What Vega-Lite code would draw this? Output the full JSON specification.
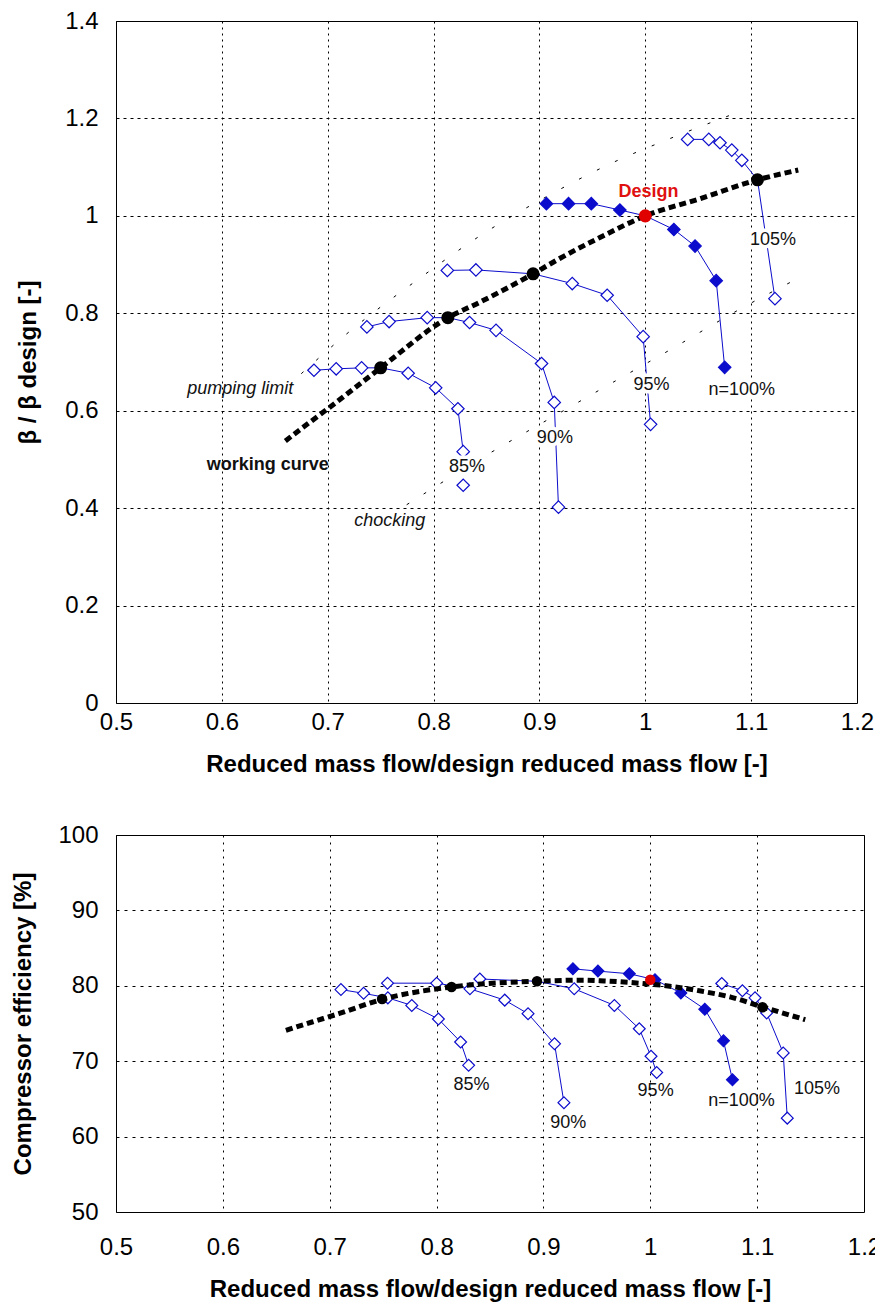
{
  "$schema": "https://vega.github.io/schema/vega-lite/v6.json",
  "background": "white",
  "padding": {"left": 11, "top": 8, "right": 0, "bottom": 0},
  "spacing": 45,
  "config": {
    "font": "Liberation Sans",
    "view": {"stroke": "black", "strokeWidth": 1},
    "axis": {
      "labelFont": "Liberation Sans", "labelFontSize": 24, "labelColor": "black", "labelFlush": false,
      "titleFont": "Liberation Sans", "titleFontSize": 24, "titleFontWeight": "bold", "titleColor": "black",
      "domain": false, "ticks": false, "grid": true, "gridColor": "black", "gridOpacity": 1, "gridWidth": 1
    }
  },
  "datasets": {
    "topSpeed": [
      {"s": "85a", "c": "85%", "i": 1, "x": 0.687, "y": 0.683, "op": 0},
      {"s": "85a", "c": "85%", "i": 2, "x": 0.708, "y": 0.686, "op": 0},
      {"s": "85a", "c": "85%", "i": 3, "x": 0.732, "y": 0.688, "op": 0},
      {"s": "85a", "c": "85%", "i": 4, "x": 0.750, "y": 0.688, "op": 1},
      {"s": "85a", "c": "85%", "i": 5, "x": 0.776, "y": 0.677, "op": 0},
      {"s": "85a", "c": "85%", "i": 6, "x": 0.802, "y": 0.647, "op": 0},
      {"s": "85a", "c": "85%", "i": 7, "x": 0.823, "y": 0.604, "op": 0},
      {"s": "85a", "c": "85%", "i": 8, "x": 0.828, "y": 0.516, "op": 0},
      {"s": "85b", "c": "85%", "i": 9, "x": 0.828, "y": 0.447, "op": 0},
      {"s": "90", "c": "90%", "i": 1, "x": 0.737, "y": 0.772, "op": 0},
      {"s": "90", "c": "90%", "i": 2, "x": 0.758, "y": 0.783, "op": 0},
      {"s": "90", "c": "90%", "i": 3, "x": 0.794, "y": 0.791, "op": 0},
      {"s": "90", "c": "90%", "i": 4, "x": 0.8135, "y": 0.791, "op": 1},
      {"s": "90", "c": "90%", "i": 5, "x": 0.834, "y": 0.781, "op": 0},
      {"s": "90", "c": "90%", "i": 6, "x": 0.859, "y": 0.765, "op": 0},
      {"s": "90", "c": "90%", "i": 7, "x": 0.902, "y": 0.697, "op": 0},
      {"s": "90", "c": "90%", "i": 8, "x": 0.914, "y": 0.617, "op": 0},
      {"s": "90", "c": "90%", "i": 9, "x": 0.918, "y": 0.402, "op": 0},
      {"s": "95", "c": "95%", "i": 1, "x": 0.813, "y": 0.888, "op": 0},
      {"s": "95", "c": "95%", "i": 2, "x": 0.840, "y": 0.889, "op": 0},
      {"s": "95", "c": "95%", "i": 3, "x": 0.894, "y": 0.881, "op": 1},
      {"s": "95", "c": "95%", "i": 4, "x": 0.931, "y": 0.861, "op": 0},
      {"s": "95", "c": "95%", "i": 5, "x": 0.964, "y": 0.837, "op": 0},
      {"s": "95", "c": "95%", "i": 6, "x": 0.998, "y": 0.752, "op": 0},
      {"s": "95", "c": "95%", "i": 7, "x": 1.005, "y": 0.572, "op": 0},
      {"s": "100", "c": "100%", "i": 1, "x": 0.9066, "y": 1.025, "op": 0},
      {"s": "100", "c": "100%", "i": 2, "x": 0.9275, "y": 1.025, "op": 0},
      {"s": "100", "c": "100%", "i": 3, "x": 0.949, "y": 1.025, "op": 0},
      {"s": "100", "c": "100%", "i": 4, "x": 0.976, "y": 1.012, "op": 0},
      {"s": "100", "c": "100%", "i": 5, "x": 1.0, "y": 1.0, "op": 1},
      {"s": "100", "c": "100%", "i": 6, "x": 1.027, "y": 0.972, "op": 0},
      {"s": "100", "c": "100%", "i": 7, "x": 1.047, "y": 0.938, "op": 0},
      {"s": "100", "c": "100%", "i": 8, "x": 1.067, "y": 0.867, "op": 0},
      {"s": "100", "c": "100%", "i": 9, "x": 1.075, "y": 0.689, "op": 0},
      {"s": "105", "c": "105%", "i": 1, "x": 1.040, "y": 1.157, "op": 0},
      {"s": "105", "c": "105%", "i": 2, "x": 1.060, "y": 1.157, "op": 0},
      {"s": "105", "c": "105%", "i": 3, "x": 1.0706, "y": 1.150, "op": 0},
      {"s": "105", "c": "105%", "i": 4, "x": 1.0817, "y": 1.135, "op": 0},
      {"s": "105", "c": "105%", "i": 5, "x": 1.0912, "y": 1.114, "op": 0},
      {"s": "105", "c": "105%", "i": 6, "x": 1.106, "y": 1.074, "op": 1},
      {"s": "105", "c": "105%", "i": 7, "x": 1.1225, "y": 0.830, "op": 0}
    ],
    "topWork": [
      {"i": 1, "x": 0.660, "y": 0.538},
      {"i": 2, "x": 0.6786, "y": 0.569},
      {"i": 3, "x": 0.7007, "y": 0.605},
      {"i": 4, "x": 0.750, "y": 0.688},
      {"i": 5, "x": 0.8135, "y": 0.791},
      {"i": 6, "x": 0.843, "y": 0.822},
      {"i": 7, "x": 0.894, "y": 0.881},
      {"i": 8, "x": 0.9187, "y": 0.912},
      {"i": 9, "x": 0.9566, "y": 0.955},
      {"i": 10, "x": 1.0, "y": 1.0},
      {"i": 11, "x": 1.0514, "y": 1.035},
      {"i": 12, "x": 1.106, "y": 1.074},
      {"i": 13, "x": 1.1445, "y": 1.094}
    ],
    "topOp": [
      {"x": 0.750, "y": 0.688, "kind": "op"},
      {"x": 0.8135, "y": 0.791, "kind": "op"},
      {"x": 0.894, "y": 0.881, "kind": "op"},
      {"x": 1.106, "y": 1.074, "kind": "op"},
      {"x": 1.0, "y": 1.0, "kind": "design"}
    ],
    "limits": [
      {"name": "pump", "i": 1, "x": 0.675, "y": 0.676},
      {"name": "pump", "i": 2, "x": 0.7225, "y": 0.766},
      {"name": "pump", "i": 3, "x": 0.785, "y": 0.869},
      {"name": "pump", "i": 4, "x": 0.8467, "y": 0.963},
      {"name": "pump", "i": 5, "x": 0.908, "y": 1.041},
      {"name": "pump", "i": 6, "x": 0.971, "y": 1.111},
      {"name": "pump", "i": 7, "x": 1.018, "y": 1.154},
      {"name": "pump", "i": 8, "x": 1.0807, "y": 1.207},
      {"name": "choke", "i": 1, "x": 0.7746, "y": 0.407},
      {"name": "choke", "i": 2, "x": 0.854, "y": 0.514},
      {"name": "choke", "i": 3, "x": 0.9155, "y": 0.591},
      {"name": "choke", "i": 4, "x": 0.962, "y": 0.649},
      {"name": "choke", "i": 5, "x": 1.025, "y": 0.727},
      {"name": "choke", "i": 6, "x": 1.0865, "y": 0.805},
      {"name": "choke", "i": 7, "x": 1.149, "y": 0.877}
    ],
    "topLabels": [
      {"x": 1.003, "y": 1.049, "t": "Design", "k": "design"},
      {"x": 1.1206, "y": 0.951, "t": "105%", "k": "speed"},
      {"x": 1.0059, "y": 0.653, "t": "95%", "k": "speed"},
      {"x": 1.0912, "y": 0.643, "t": "n=100%", "k": "speed"},
      {"x": 0.8315, "y": 0.485, "t": "85%", "k": "speed"},
      {"x": 0.9146, "y": 0.543, "t": "90%", "k": "speed"},
      {"x": 0.6174, "y": 0.645, "t": "pumping limit", "k": "italic"},
      {"x": 0.6433, "y": 0.489, "t": "working curve", "k": "bold"},
      {"x": 0.7585, "y": 0.374, "t": "chocking", "k": "italic"}
    ],
    "botSpeed": [
      {"s": "85", "c": "85%", "i": 1, "x": 0.7105, "y": 79.5, "op": 0},
      {"s": "85", "c": "85%", "i": 2, "x": 0.7317, "y": 79.0, "op": 0},
      {"s": "85", "c": "85%", "i": 3, "x": 0.7544, "y": 78.4, "op": 0},
      {"s": "85", "c": "85%", "i": 4, "x": 0.7768, "y": 77.4, "op": 0},
      {"s": "85", "c": "85%", "i": 5, "x": 0.8017, "y": 75.6, "op": 0},
      {"s": "85", "c": "85%", "i": 6, "x": 0.8225, "y": 72.55, "op": 0},
      {"s": "85", "c": "85%", "i": 7, "x": 0.830, "y": 69.45, "op": 0},
      {"s": "90", "c": "90%", "i": 1, "x": 0.7541, "y": 80.35, "op": 0},
      {"s": "90", "c": "90%", "i": 2, "x": 0.8001, "y": 80.35, "op": 0},
      {"s": "90", "c": "90%", "i": 3, "x": 0.8312, "y": 79.6, "op": 0},
      {"s": "90", "c": "90%", "i": 4, "x": 0.8638, "y": 78.1, "op": 0},
      {"s": "90", "c": "90%", "i": 5, "x": 0.8856, "y": 76.3, "op": 0},
      {"s": "90", "c": "90%", "i": 6, "x": 0.9104, "y": 72.3, "op": 0},
      {"s": "90", "c": "90%", "i": 7, "x": 0.9192, "y": 64.5, "op": 0},
      {"s": "95", "c": "95%", "i": 1, "x": 0.8405, "y": 80.9, "op": 0},
      {"s": "95", "c": "95%", "i": 2, "x": 0.894, "y": 80.6, "op": 1},
      {"s": "95", "c": "95%", "i": 3, "x": 0.9288, "y": 79.6, "op": 0},
      {"s": "95", "c": "95%", "i": 4, "x": 0.9664, "y": 77.4, "op": 0},
      {"s": "95", "c": "95%", "i": 5, "x": 0.9897, "y": 74.3, "op": 0},
      {"s": "95", "c": "95%", "i": 6, "x": 1.0007, "y": 70.65, "op": 0},
      {"s": "95", "c": "95%", "i": 7, "x": 1.006, "y": 68.5, "op": 0},
      {"s": "100", "c": "100%", "i": 1, "x": 0.9276, "y": 82.25, "op": 0},
      {"s": "100", "c": "100%", "i": 2, "x": 0.951, "y": 81.95, "op": 0},
      {"s": "100", "c": "100%", "i": 3, "x": 0.9804, "y": 81.6, "op": 0},
      {"s": "100", "c": "100%", "i": 4, "x": 1.0044, "y": 80.8, "op": 0},
      {"s": "100", "c": "100%", "i": 5, "x": 1.0286, "y": 79.05, "op": 0},
      {"s": "100", "c": "100%", "i": 6, "x": 1.051, "y": 76.9, "op": 0},
      {"s": "100", "c": "100%", "i": 7, "x": 1.0685, "y": 72.7, "op": 0},
      {"s": "100", "c": "100%", "i": 8, "x": 1.0769, "y": 67.55, "op": 0},
      {"s": "105", "c": "105%", "i": 1, "x": 1.0669, "y": 80.3, "op": 0},
      {"s": "105", "c": "105%", "i": 2, "x": 1.0862, "y": 79.35, "op": 0},
      {"s": "105", "c": "105%", "i": 3, "x": 1.098, "y": 78.4, "op": 0},
      {"s": "105", "c": "105%", "i": 4, "x": 1.1049, "y": 77.15, "op": 1},
      {"s": "105", "c": "105%", "i": 5, "x": 1.1089, "y": 76.4, "op": 0},
      {"s": "105", "c": "105%", "i": 6, "x": 1.1244, "y": 71.1, "op": 0},
      {"s": "105", "c": "105%", "i": 7, "x": 1.1282, "y": 62.45, "op": 0}
    ],
    "botWork": [
      {"i": 1, "x": 0.659, "y": 74.1},
      {"i": 2, "x": 0.6835, "y": 75.2},
      {"i": 3, "x": 0.7084, "y": 76.3},
      {"i": 4, "x": 0.749, "y": 78.2},
      {"i": 5, "x": 0.814, "y": 79.85},
      {"i": 6, "x": 0.894, "y": 80.6},
      {"i": 7, "x": 0.938, "y": 80.75},
      {"i": 8, "x": 0.9568, "y": 80.65},
      {"i": 9, "x": 0.9848, "y": 80.4},
      {"i": 10, "x": 1.0209, "y": 79.9},
      {"i": 11, "x": 1.0473, "y": 79.3},
      {"i": 12, "x": 1.0753, "y": 78.5},
      {"i": 13, "x": 1.105, "y": 77.2},
      {"i": 14, "x": 1.145, "y": 75.5}
    ],
    "botOp": [
      {"x": 0.749, "y": 78.26, "kind": "op"},
      {"x": 0.814, "y": 79.85, "kind": "op"},
      {"x": 0.894, "y": 80.6, "kind": "op"},
      {"x": 1.105, "y": 77.16, "kind": "op"},
      {"x": 1.0, "y": 80.8, "kind": "design"}
    ],
    "botLabels": [
      {"x": 0.8327, "y": 66.9, "t": "85%"},
      {"x": 0.9232, "y": 61.8, "t": "90%"},
      {"x": 1.005, "y": 66.0, "t": "95%"},
      {"x": 1.0854, "y": 64.67, "t": "n=100%"},
      {"x": 1.156, "y": 66.3, "t": "105%"}
    ]
  },
  "vconcat": [
    {
      "width": 741,
      "height": 682,
      "encoding": {
        "x": {"field": "x", "type": "quantitative",
          "scale": {"domain": [0.5, 1.2], "nice": false, "zero": false},
          "axis": {"title": "Reduced mass flow/design reduced mass flow [-]", "values": [0.5, 0.6, 0.7, 0.8, 0.9, 1.0, 1.1, 1.2], "format": "~g", "labelPadding": 7, "titlePadding": 18, "gridDash": [2, 4]}},
        "y": {"field": "y", "type": "quantitative",
          "scale": {"domain": [0, 1.4], "nice": false, "zero": false},
          "axis": {"title": "β / β design [-]", "values": [0, 0.2, 0.4, 0.6, 0.8, 1.0, 1.2, 1.4], "format": "~g", "labelPadding": 18, "titlePadding": 24, "gridDash": [3, 4]}}
      },
      "layer": [
        {"data": {"name": "limits"},
          "mark": {"type": "line", "color": "black", "strokeWidth": 1, "strokeDash": [3, 17], "interpolate": "monotone"},
          "encoding": {"detail": {"field": "name"}, "order": {"field": "i"}}},
        {"data": {"name": "topSpeed"},
          "transform": [{"filter": "datum.s !== '85b'"}],
          "mark": {"type": "line", "color": "#0c0ccc", "strokeWidth": 1},
          "encoding": {"detail": {"field": "s"}, "order": {"field": "i"}}},
        {"data": {"name": "topSpeed"},
          "transform": [{"filter": "datum.op === 0"}],
          "mark": {"type": "point", "shape": "diamond", "size": 155, "strokeWidth": 1.2, "stroke": "#0c0ccc", "opacity": 1},
          "encoding": {"fill": {"field": "c", "type": "nominal", "scale": {"domain": ["85%", "90%", "95%", "100%", "105%"], "range": ["white", "white", "white", "#0c0ccc", "white"]}, "legend": null}}},
        {"data": {"name": "topWork"},
          "mark": {"type": "line", "color": "black", "strokeWidth": 5, "strokeDash": [7, 4], "interpolate": "monotone"},
          "encoding": {"order": {"field": "i"}}},
        {"data": {"name": "topOp"},
          "mark": {"type": "point", "shape": "circle", "size": 170, "filled": true, "opacity": 1},
          "encoding": {"color": {"field": "kind", "type": "nominal", "scale": {"domain": ["op", "design"], "range": ["black", "#e00000"]}, "legend": null}}},
        {"data": {"name": "topLabels"},
          "transform": [{"filter": "datum.k === 'speed'"}],
          "mark": {"type": "text", "fontSize": 18, "font": "Liberation Sans", "stroke": "white", "strokeWidth": 7, "strokeJoin": "round", "fill": "white", "align": "center", "baseline": "middle"},
          "encoding": {"text": {"field": "t"}}},
        {"data": {"name": "topLabels"},
          "transform": [{"filter": "datum.k === 'speed'"}],
          "mark": {"type": "text", "fontSize": 18, "font": "Liberation Sans", "color": "#111111", "align": "center", "baseline": "middle"},
          "encoding": {"text": {"field": "t"}}},
        {"data": {"name": "topLabels"},
          "transform": [{"filter": "datum.k === 'design'"}],
          "mark": {"type": "text", "fontSize": 18, "fontWeight": "bold", "font": "Liberation Sans", "color": "#e01010", "align": "center", "baseline": "middle"},
          "encoding": {"text": {"field": "t"}}},
        {"data": {"name": "topLabels"},
          "transform": [{"filter": "datum.k === 'italic'"}],
          "mark": {"type": "text", "fontSize": 18, "fontStyle": "italic", "font": "Liberation Sans", "color": "#111111", "align": "center", "baseline": "middle"},
          "encoding": {"text": {"field": "t"}}},
        {"data": {"name": "topLabels"},
          "transform": [{"filter": "datum.k === 'bold'"}],
          "mark": {"type": "text", "fontSize": 18, "fontWeight": "bold", "font": "Liberation Sans", "color": "#111111", "align": "center", "baseline": "middle"},
          "encoding": {"text": {"field": "t"}}}
      ]
    },
    {
      "width": 748,
      "height": 377,
      "encoding": {
        "x": {"field": "x", "type": "quantitative",
          "scale": {"domain": [0.5, 1.2], "nice": false, "zero": false},
          "axis": {"title": "Reduced mass flow/design reduced mass flow [-]", "values": [0.5, 0.6, 0.7, 0.8, 0.9, 1.0, 1.1, 1.2], "format": "~g", "labelPadding": 23, "titlePadding": 18, "gridDash": [2, 5]}},
        "y": {"field": "y", "type": "quantitative",
          "scale": {"domain": [50, 100], "nice": false, "zero": false},
          "axis": {"title": "Compressor efficiency [%]", "values": [50, 60, 70, 80, 90, 100], "format": "d", "labelPadding": 18, "titlePadding": 22, "gridDash": [3, 5]}}
      },
      "layer": [
        {"data": {"name": "botSpeed"},
          "mark": {"type": "line", "color": "#0c0ccc", "strokeWidth": 1},
          "encoding": {"detail": {"field": "s"}, "order": {"field": "i"}}},
        {"data": {"name": "botSpeed"},
          "transform": [{"filter": "datum.op === 0"}],
          "mark": {"type": "point", "shape": "diamond", "size": 140, "strokeWidth": 1.2, "stroke": "#0c0ccc", "opacity": 1},
          "encoding": {"fill": {"field": "c", "type": "nominal", "scale": {"domain": ["85%", "90%", "95%", "100%", "105%"], "range": ["white", "white", "white", "#0c0ccc", "white"]}, "legend": null}}},
        {"data": {"name": "botWork"},
          "mark": {"type": "line", "color": "black", "strokeWidth": 5, "strokeDash": [7, 4], "interpolate": "monotone"},
          "encoding": {"order": {"field": "i"}}},
        {"data": {"name": "botOp"},
          "mark": {"type": "point", "shape": "circle", "size": 110, "filled": true, "opacity": 1},
          "encoding": {"color": {"field": "kind", "type": "nominal", "scale": {"domain": ["op", "design"], "range": ["black", "#e00000"]}, "legend": null}}},
        {"data": {"name": "botLabels"},
          "mark": {"type": "text", "fontSize": 18, "font": "Liberation Sans", "color": "#111111", "align": "center", "baseline": "middle"},
          "encoding": {"text": {"field": "t"}}}
      ]
    }
  ]
}
